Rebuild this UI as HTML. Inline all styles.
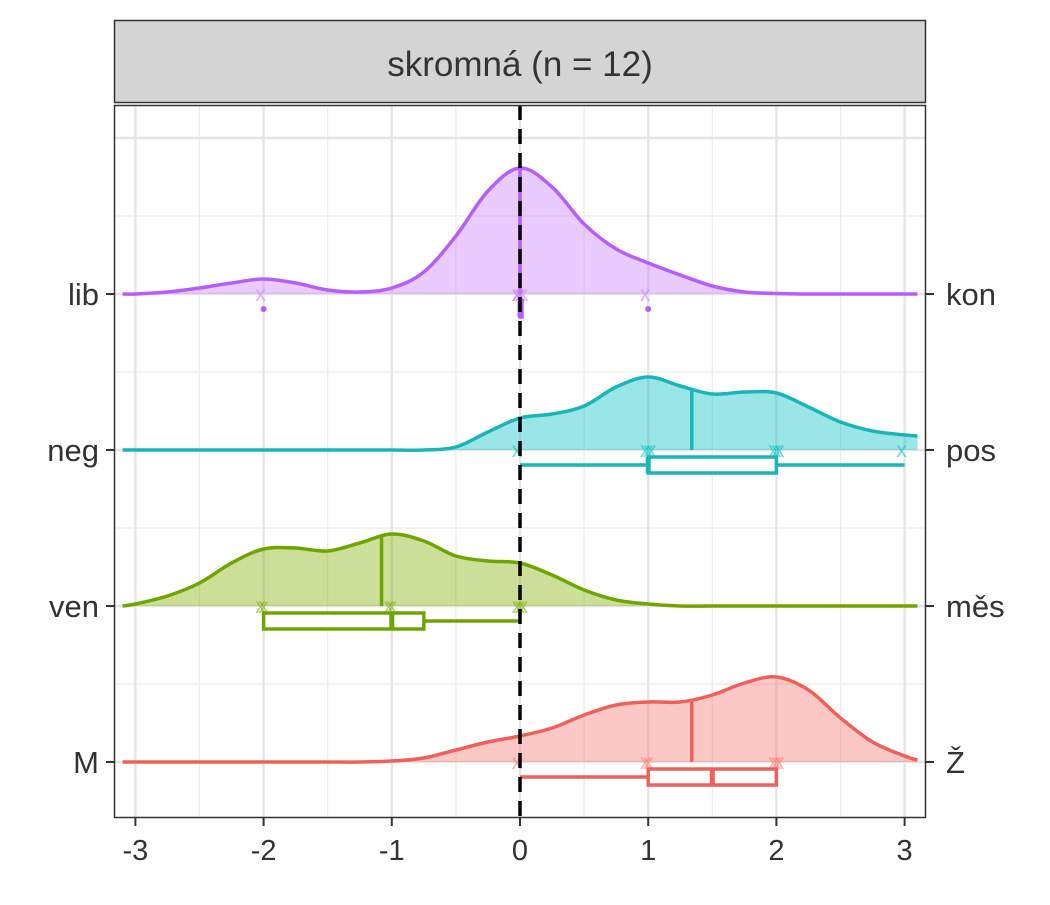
<!DOCTYPE html>
<html><head><meta charset="utf-8"><style>
body{margin:0;background:#fff;}
svg text{font-family:"Liberation Sans",sans-serif;fill:#333;}
</style></head><body>
<svg width="1050" height="900" xmlns="http://www.w3.org/2000/svg">
<rect width="1050" height="900" fill="#fff"/>
<g id="grid"></g>
<g id="marks"></g>
<line x1="520" y1="105" x2="520" y2="818" stroke="#000" stroke-width="3.5" stroke-dasharray="15,9"/>
<rect x="114.5" y="105.5" width="811" height="712" fill="none" stroke="#333" stroke-width="1.5"/>
<rect x="114.5" y="20.5" width="811" height="82" fill="#d4d4d4" stroke="#333" stroke-width="1.5"/>
<text x="520" y="76" font-size="35" text-anchor="middle">skromná (n = 12)</text>
<g id="axes"></g>
</svg>
<script>
const xGrid=[-3.1,-3,-2.75,-2.5,-2.25,-2,-1.75,-1.5,-1.25,-1,-0.75,-0.5,-0.25,0,0.25,0.5,0.75,1,1.25,1.5,1.75,2,2.25,2.5,2.75,3,3.1];
const densLib=[0,0,2,6,11,15,11,4,2,6,22,58,103,126,107,70,45,31,19,8,2,0.5,0,0,0,0,0];
const densNeg=[0,0,0,0,0,0,0,0,0,0,0,3,18,32,36,44,63,73,64,56,58,57,43,28,19,15,14];
const densVen=[0,2,10,23,43,57,58,55,63,72,65,50,45,43,31,16,6,2,0,0,0,0,0,0,0,0,0];
const densM=[0,0,0,0,0,0,0,0,0,1,4,12,20,26,34,47,57,60,60,67,79,85,72,44,20,6,2];
const leftLabels=["lib","neg","ven","M"];
const rightLabels=["kon","pos","měs","Ž"];
const xTicks=[-3,-2,-1,0,1,2,3];
const means=[0,1.34,-1.08,1.34];
const boxQ1=[0,1,-2,1], boxMed=[0,1,-1,1.5], boxQ3=[0,2,-0.75,2], whLo=[0,0,-2,0], whHi=[0,3,0,2];
const outliers=[[-2,1],[],[],[]];
const points=[[-2,0,0,0,0,0,1],[0,1,1,1,2,2,2,3],[-2,-2,-1,-1,0,0,0],[0,1,1,2,2,2]];
const lineCol=["#b65efc","#19b5b8","#6ea500","#f0605a"];
const fillCol=["#c77cff","#00bfc4","#7cae00","#f8766d"];

const NS="http://www.w3.org/2000/svg";
const xPx=v=>520+v*128.2;
const rowY=i=>294+i*156;
const hPx=d=>d*1.0;
function mk(tag,attrs,parent){const e=document.createElementNS(NS,tag);for(const k in attrs)e.setAttribute(k,attrs[k]);parent.appendChild(e);return e;}
const grid=document.getElementById('grid'),marks=document.getElementById('marks'),axes=document.getElementById('axes');
for(let v=-2.5;v<=2.5;v+=1){const l=mk('line',{x1:xPx(v),x2:xPx(v),y1:105,y2:818,stroke:'#ebebeb','stroke-width':1.2},grid);}
[216,372,528,684].forEach(y=>{const l=mk('line',{x1:114,x2:926,y1:y,y2:y,stroke:'#ebebeb','stroke-width':1.2},grid);});
xTicks.forEach(v=>{const l=mk('line',{x1:xPx(v),x2:xPx(v),y1:105,y2:818,stroke:'#e5e5e5','stroke-width':2.4},grid);});
[138,294,450,606,762].forEach(y=>{const l=mk('line',{x1:114,x2:926,y1:y,y2:y,stroke:'#e5e5e5','stroke-width':2.4},grid);});

function curvePts(dens,i){return xGrid.map((x,k)=>[xPx(x),rowY(i)-hPx(dens[k])]);}
function crPath(p){let d=`M${p[0][0]},${p[0][1]}`;for(let i=0;i<p.length-1;i++){const p0=p[i-1]||p[i],p1=p[i],p2=p[i+1],p3=p[i+2]||p2;
d+=` C${p1[0]+(p2[0]-p0[0])/6},${p1[1]+(p2[1]-p0[1])/6} ${p2[0]-(p3[0]-p1[0])/6},${p2[1]-(p3[1]-p1[1])/6} ${p2[0]},${p2[1]}`;}return d;}
function interp(dens,v){for(let k=0;k<xGrid.length-1;k++){if(v>=xGrid[k]&&v<=xGrid[k+1]){const t=(v-xGrid[k])/(xGrid[k+1]-xGrid[k]);return dens[k]+(dens[k+1]-dens[k])*t;}}return 0;}
const allDens=[densLib,densNeg,densVen,densM];
allDens.forEach((dens,i)=>{
  const y0=rowY(i),p=curvePts(dens,i),d=crPath(p),g=mk('g',{},marks);
  
  const f=mk('path',{d:d+` L${p[p.length-1][0]},${y0} L${p[0][0]},${y0} Z`,fill:fillCol[i],'fill-opacity':0.4},g);
  
  const ln=mk('path',{d:d,fill:'none',stroke:lineCol[i],'stroke-width':3.5},g);
  
  const m=mk('line',{x1:xPx(means[i]),x2:xPx(means[i]),y1:y0,y2:y0-hPx(interp(dens,means[i])),stroke:lineCol[i],'stroke-width':3.5},g);
  
  const cnt={};points[i].forEach(v=>{cnt[v]=(cnt[v]||0);const jx=xPx(v)+(cnt[v]%3-1)*3;cnt[v]++;
    const t=mk('text',{x:jx,y:y0+7,'font-size':21,'text-anchor':'middle',style:'fill:'+fillCol[i],'fill-opacity':0.6},g);t.textContent='x';
    });
  const by=y0+15,bh=16;
  if(whLo[i]<boxQ1[i]){const w=mk('line',{x1:xPx(whLo[i]),x2:xPx(boxQ1[i]),y1:by,y2:by,stroke:lineCol[i],'stroke-width':3.5},g);}
  if(whHi[i]>boxQ3[i]){const w=mk('line',{x1:xPx(boxQ3[i]),x2:xPx(whHi[i]),y1:by,y2:by,stroke:lineCol[i],'stroke-width':3.5},g);}
  const b=mk('rect',{x:xPx(boxQ1[i]),y:by-bh/2,width:Math.max(xPx(boxQ3[i])-xPx(boxQ1[i]),2),height:bh,fill:'#fff',stroke:lineCol[i],'stroke-width':3.5},g);
  
  const md=mk('line',{x1:xPx(boxMed[i]),x2:xPx(boxMed[i]),y1:by-bh/2,y2:by+bh/2,stroke:lineCol[i],'stroke-width':5},g);
  
  outliers[i].forEach(v=>{const c=mk('circle',{cx:xPx(v),cy:by,r:3,fill:lineCol[i]},g);});
});
leftLabels.forEach((s,i)=>{const l=mk('line',{x1:106,x2:114,y1:rowY(i),y2:rowY(i),stroke:'#333','stroke-width':2},axes);
  const t=mk('text',{x:99,y:rowY(i)+11,'font-size':31,'text-anchor':'end'},axes);t.textContent=s;});
rightLabels.forEach((s,i)=>{const l=mk('line',{x1:926,x2:934,y1:rowY(i),y2:rowY(i),stroke:'#333','stroke-width':2},axes);
  const t=mk('text',{x:946,y:rowY(i)+11,'font-size':31,'text-anchor':'start'},axes);t.textContent=s;});
xTicks.forEach(v=>{const l=mk('line',{x1:xPx(v),x2:xPx(v),y1:818,y2:826,stroke:'#333','stroke-width':2},axes);
  const t=mk('text',{x:xPx(v),y:860,'font-size':29,'text-anchor':'middle'},axes);t.textContent=String(v);});
</script>
</body></html>
